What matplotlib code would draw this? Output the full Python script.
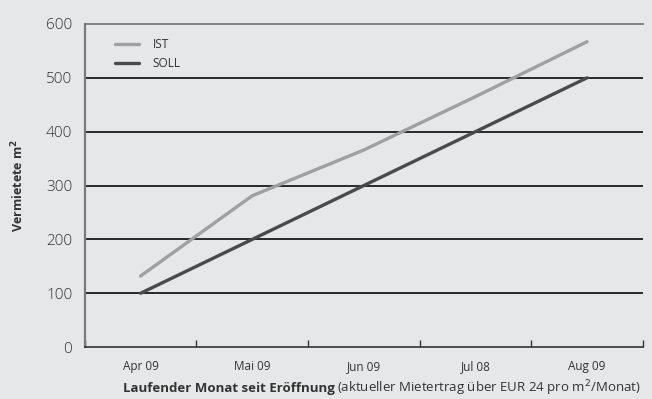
import matplotlib.pyplot as plt
import numpy as np

# data
months = ['Apr 09', 'Mai 09', 'Jun 09', 'Jul 08', 'Aug 09']
ist = [132, 281, 366, 465, 567]
soll = [100, 200, 300, 400, 500]
yticks = [0, 100, 200, 300, 400, 500, 600]

bg = '#e6e7e8'
plt.rcParams['font.family'] = ['Open Sans', 'DejaVu Sans']

fig = plt.figure(figsize=(6.52, 3.99), dpi=100, facecolor=bg)
ax = fig.add_axes([0.130, 0.130, 0.856, 0.810], facecolor=bg)

x = np.arange(len(months))
for v in yticks[1:-1]:
    ax.axhline(v, color='#1a1a1a', lw=1.3, zorder=1)
ax.plot(x, ist, color='#a0a0a0', lw=2.4, label='IST', zorder=3, solid_capstyle='round')
ax.plot(x, soll, color='#4a4a4a', lw=2.4, label='SOLL', zorder=3, solid_capstyle='round')

ax.set_xlim(-0.5, len(months) - 0.5)
ax.set_ylim(0, 600)
ax.set_xticks(x)
ax.set_xticklabels(months, fontsize=8.5, color='#333333')
ax.set_xticks(np.arange(-0.5, len(months)), minor=True)
ax.tick_params(axis='x', which='major', length=0, pad=9)
ax.tick_params(axis='x', which='minor', length=5, width=1, color='#333333', direction='in')
ax.set_yticks(yticks)
ax.set_yticklabels([str(v) for v in yticks], fontsize=11, color='#333333', fontweight='light')
ax.tick_params(axis='y', length=0, pad=9)

ax.spines['right'].set_visible(False)
ax.spines['top'].set_color('#7a7a7a')
ax.spines['top'].set_linewidth(1.3)
ax.spines['left'].set_color('#7a7a7a')
ax.spines['left'].set_linewidth(1.6)
ax.spines['bottom'].set_color('#333333')
ax.spines['bottom'].set_linewidth(1.2)

leg = ax.legend(loc='upper left', bbox_to_anchor=(0.035, 0.99), frameon=False,
                fontsize=8.5, handlelength=2.0, handletextpad=1.2, labelspacing=0.55)
for t in leg.get_texts():
    t.set_color('#333333')

fig.text(0.028, 0.535, 'Vermietete m$^\\mathbf{2}$', rotation=90, fontsize=9, fontweight='bold',
         color='#333333', ha='center', va='center')

# x label: bold part + regular part
fig.canvas.draw()
r = fig.canvas.get_renderer()
t2 = fig.text(0.983, 0.018, '(aktueller Mietertrag über EUR 24 pro m$^2$/Monat)', fontsize=9.5,
              color='#333333', ha='right', va='baseline')
bb = t2.get_window_extent(renderer=r)
fig.text(bb.x0 / fig.bbox.width - 0.004, 0.018, 'Laufender Monat seit Eröffnung', fontsize=9.5,
         fontweight='bold', color='#333333', ha='right', va='baseline')

fig.savefig('out.png', dpi=100, facecolor=bg)
